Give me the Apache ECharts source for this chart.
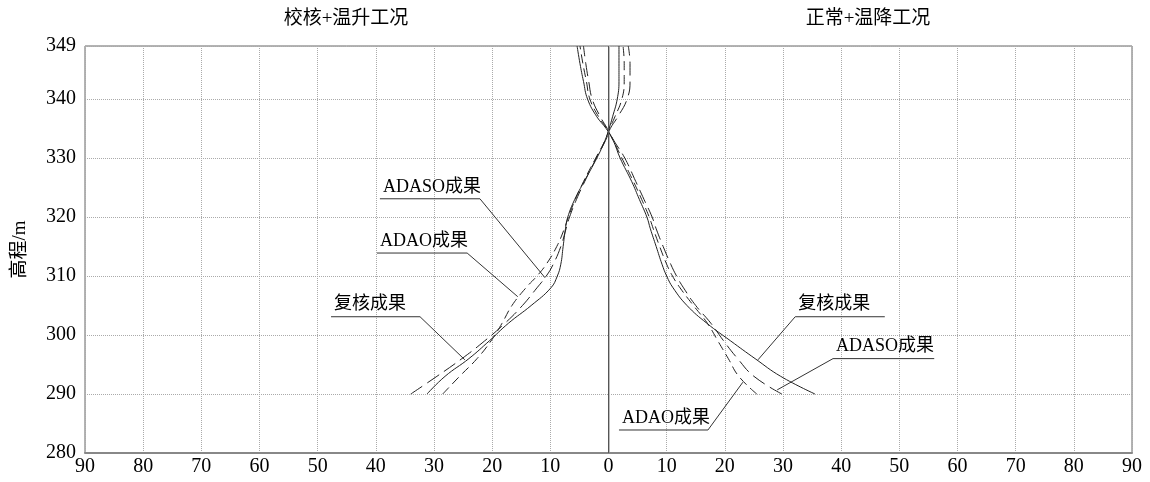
<!DOCTYPE html>
<html>
<head>
<meta charset="utf-8">
<title>高程曲线</title>
<script src="https://cdn.jsdelivr.net/npm/echarts@6/dist/echarts.min.js"></script>
<style>
  html, body { margin: 0; padding: 0; background: #fff; }
  #chart { width: 1150px; height: 482px; }
</style>
</head>
<body>
<div id="chart"></div>
<script>
// 高程 (m)，两侧共用
const heights = [290, 293, 296, 299, 302, 305, 308, 310, 312, 315, 318, 320, 323, 326, 330, 333, 335, 337, 340, 343, 346, 349];

// 校核+温升工况 (左侧，负值)
const leftReview = [-31.2, -28.1, -24.0, -20.5, -17.2, -13.3, -9.9, -8.8, -8.2, -7.8, -7.4, -7.0, -5.8, -4.2, -2.0, -0.6, 0.1, 0.7, 1.5, 1.8, 1.8, 1.8];
const leftAdao = [-28.5, -25.6, -22.6, -20.2, -18.3, -16.6, -14.2, -12.3, -10.7, -8.9, -7.6, -6.9, -5.7, -4.3, -2.2, -0.6, 0.2, 1.1, 2.3, 2.7, 2.7, 2.5];
const leftAdaso = [-34.0, -29.5, -25.2, -21.3, -17.8, -14.8, -12.3, -10.7, -9.5, -8.2, -7.3, -6.7, -5.5, -4.1, -2.1, -0.5, 0.3, 1.6, 3.2, 3.7, 3.7, 3.4];

// 正常+温降工况 (右侧，正值)
const rightReview = [35.5, 29.6, 25.2, 21.0, 16.9, 13.5, 11.1, 10.0, 9.2, 8.2, 7.2, 6.6, 5.3, 4.0, 2.0, 0.8, -0.4, -2.0, -3.6, -4.3, -4.9, -5.4];
const rightAdao = [25.5, 22.4, 20.6, 18.8, 17.0, 14.6, 12.3, 11.0, 10.0, 8.8, 7.7, 7.0, 5.7, 4.3, 2.3, 0.8, -0.3, -1.7, -3.2, -3.8, -4.4, -4.9];
const rightAdaso = [29.8, 25.0, 22.2, 19.8, 17.6, 15.0, 12.9, 11.7, 10.7, 9.4, 8.2, 7.5, 6.1, 4.7, 2.8, 0.9, -0.2, -1.4, -2.8, -3.4, -3.9, -4.3];

// 坐标轴
const xTicks = { min: -90, max: 90, step: 10 };
const yTicks = { min: 280, max: 349, step: 10 };

// 标注：文字、下划线起止(x)、下划线高程、指向点
const noteText = ['ADASO成果', 'ADAO成果', '复核成果', '复核成果', 'ADASO成果', 'ADAO成果'];
const noteFrom = [-39.3, -39.8, -47.7, 32.1, 38.6, 1.8];
const noteTo = [-22.1, -24.3, -32.4, 47.5, 56.0, 17.1];
const noteLevel = [323.1, 313.9, 303.1, 303.1, 296.0, 283.9];
const noteTargetX = [-10.9, -15.6, -24.7, 25.7, 29.0, 23.1];
const noteTargetY = [309.7, 306.5, 295.8, 295.8, 290.7, 292.0];
// 引线接在下划线哪一端
const noteAttach = ['end', 'end', 'end', 'start', 'start', 'end'];

const serifFont = '"Liberation Serif", "Noto Sans CJK SC", serif';

function pairs(xs) {
  return xs.map((v, i) => [v, heights[i]]);
}

function curve(name, xs, dash) {
  return {
    name: name,
    type: 'line',
    data: pairs(xs),
    smooth: 0.45,
    symbol: 'none',
    silent: true,
    lineStyle: { color: '#222', width: 1, type: dash }
  };
}

const myChart = echarts.init(document.getElementById('chart'));

myChart.setOption({
  animation: false,
  grid: {
    left: 85, right: 18, top: 46, bottom: 29,
    outerBoundsMode: 'none',
    containLabel: false,
    show: true, borderColor: '#666', borderWidth: 1
  },
  xAxis: {
    type: 'value',
    min: xTicks.min, max: xTicks.max, interval: xTicks.step,
    axisLine: { show: true, lineStyle: { color: '#888', width: 2 } },
    axisTick: { show: false },
    axisLabel: {
      color: '#000', fontSize: 20, fontFamily: serifFont, margin: 4,
      formatter: (v) => String(Math.abs(v))
    },
    splitLine: { show: true, lineStyle: { color: '#aaa', type: 'dotted', width: 1 } }
  },
  yAxis: {
    type: 'value',
    min: yTicks.min, max: yTicks.max, interval: yTicks.step,
    name: '高程/m',
    nameLocation: 'middle',
    nameRotate: 90,
    nameGap: 55,
    nameTextStyle: { color: '#000', fontSize: 19, fontFamily: serifFont },
    axisLine: { show: true, lineStyle: { color: '#bbb', width: 2 } },
    axisTick: { show: false },
    axisLabel: { color: '#000', fontSize: 20, fontFamily: serifFont, margin: 9 },
    splitLine: { show: true, lineStyle: { color: '#aaa', type: 'dotted', width: 1 } }
  },
  series: [
    Object.assign(curve('复核成果-左', leftReview, 'solid'), {
      // 0 刻度竖线
      markLine: {
        silent: true,
        symbol: 'none',
        label: { show: false },
        lineStyle: { color: '#555', type: 'solid', width: 1 },
        data: [{ xAxis: 0 }]
      }
    }),
    curve('ADAO成果-左', leftAdao, [9, 5]),
    curve('ADASO成果-左', leftAdaso, [14, 6]),
    curve('复核成果-右', rightReview, 'solid'),
    curve('ADAO成果-右', rightAdao, [9, 5]),
    curve('ADASO成果-右', rightAdaso, [14, 6])
  ]
});

// 标题和标注，用坐标换算成像素
function buildGraphics() {
  const els = [
    {
      type: 'text', x: 346, y: 19,
      style: { text: '校核+温升工况', fill: '#000', font: '19px ' + serifFont, textAlign: 'center', textVerticalAlign: 'middle' }
    },
    {
      type: 'text', x: 868, y: 19,
      style: { text: '正常+温降工况', fill: '#000', font: '19px ' + serifFont, textAlign: 'center', textVerticalAlign: 'middle' }
    }
  ];
  noteText.forEach((txt, i) => {
    const a = myChart.convertToPixel({ gridIndex: 0 }, [noteFrom[i], noteLevel[i]]);
    const b = myChart.convertToPixel({ gridIndex: 0 }, [noteTo[i], noteLevel[i]]);
    const t = myChart.convertToPixel({ gridIndex: 0 }, [noteTargetX[i], noteTargetY[i]]);
    els.push({
      type: 'polyline',
      silent: true,
      shape: { points: noteAttach[i] === 'end' ? [a, b, t] : [b, a, t] },
      style: { stroke: '#333', lineWidth: 1, fill: null }
    });
    els.push({
      type: 'text',
      x: a[0] + 3, y: a[1] - 3,
      style: { text: txt, fill: '#000', font: '18px ' + serifFont, textAlign: 'left', textVerticalAlign: 'bottom' }
    });
  });
  myChart.setOption({ graphic: els });
}
buildGraphics();
</script>
</body>
</html>
